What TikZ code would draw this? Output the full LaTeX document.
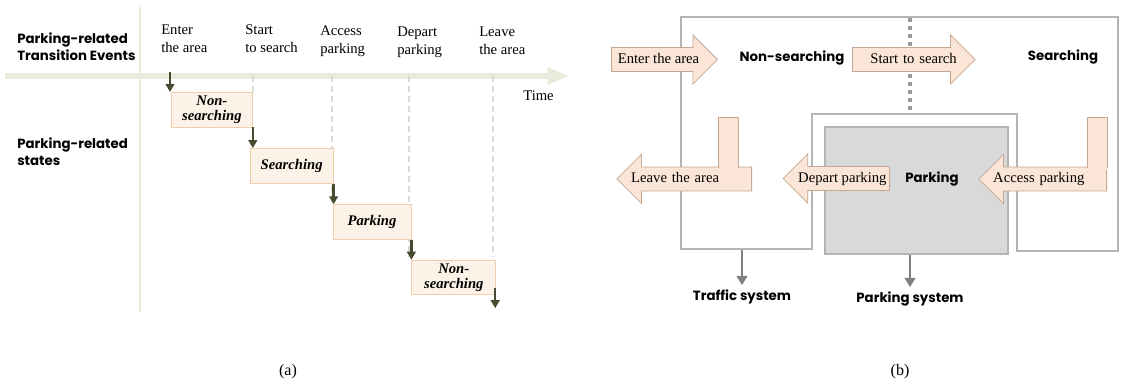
\documentclass[tikz,border=0pt]{standalone}
\usepackage{fontspec}
\setmainfont{Liberation Serif}
\newfontfamily\headfont{Poppins}
\usepackage{tikz}
\usetikzlibrary{shapes,arrows.meta,positioning,calc}
\definecolor{peach}{RGB}{251,229,214}
\definecolor{peachline}{RGB}{196,168,148}
\definecolor{statefill}{RGB}{253,242,232}
\definecolor{stateline}{RGB}{242,206,172}
\definecolor{olive}{RGB}{74,74,50}
\definecolor{axisc}{RGB}{234,234,221}
\definecolor{framec}{RGB}{180,180,180}
\definecolor{sysgray}{RGB}{128,128,128}
\definecolor{boxgray}{RGB}{217,217,217}
\tikzstyle{state} = [rectangle, draw=stateline, fill=statefill, line width=0.6pt, align=center, inner sep=0pt, minimum height=26pt, font=\bfseries\itshape\fontsize{11}{11}\selectfont]
\tikzstyle{event} = [align=left, inner sep=0pt, font=\fontsize{11}{13.5}\selectfont]
\tikzstyle{rowhead} = [align=left, inner sep=0pt, font=\headfont\bfseries\fontsize{10}{12.75}\selectfont]
\tikzstyle{bhead} = [font=\headfont\bfseries\fontsize{10}{12}\selectfont]
\tikzstyle{textonly} = [draw=none, fill=none, font=\fontsize{11}{13}\selectfont]
\tikzstyle{barrow} = [single arrow, draw=peachline, fill=peach, line width=0.6pt, single arrow head extend=9.5pt, inner ysep=3.4pt, inner xsep=4.5pt, text height=8pt, text depth=2.5pt, font=\fontsize{11}{13}\selectfont]
\tikzstyle{tedge} = [draw=olive, line width=1.8pt, -{Triangle[length=6pt,width=6.5pt]}]
\tikzstyle{sysedge} = [draw=sysgray, line width=2.2pt, -{Triangle[length=7pt,width=8pt]}]
\tikzstyle{dline} = [draw=black!15, line width=1pt, dash pattern=on 4.5pt off 3pt]

\begin{document}
\begin{tikzpicture}[x=0.75pt, y=-0.75pt]
\useasboundingbox (0,0) rectangle (1121,383);

% time line (a) =============================
\draw[axisc, line width=2.2pt] (140,7) -- (140,312);
\coordinate (t0) at (5,76);
\coordinate (t1) at (570,76);
\draw[axisc, line width=4.5pt, -{Triangle[length=17pt,width=12pt]}] (t0) -- (t1);
\node[textonly, below left=11.25pt and 12pt of t1, inner sep=0pt] (time) {Time};

\node[rowhead, anchor=west] (trans) at (17,46.5) {Parking-related\\Transition Events};
\node[rowhead, anchor=west] (states) at (17,152) {Parking-related\\states};

% events
\node[event, anchor=north west] (enter) at (161,25) {Enter\\the area};
\node[event, anchor=north west] (start) at (245,25) {Start\\to search};
\node[event, anchor=north west] (access) at (320,26) {Access\\parking};
\node[event, anchor=north west] (depart) at (397,27) {Depart\\parking};
\node[event, anchor=north west] (leave) at (479,27) {Leave\\the area};
\coordinate (e1) at (170,72);
\coordinate (e2) at (253,76);
\coordinate (e3) at (332,76);
\coordinate (e4) at (409,76);
\coordinate (e5) at (493,76);

% dashed time marks
\draw[dline] (e2) -- (253,92);
\draw[dline] (e3) -- (332,203);
\draw[dline] (e4) -- (409,257);
\draw[dline] (e5) -- (493,257);

% states
\node[state, anchor=north west, minimum width=60.75pt] (s1) at (171,92) {Non-\\searching};
\node[state, below right=15.5pt and -2.25pt of s1, minimum width=62.25pt] (s2) {Searching};
\node[state, below right=15.5pt and -0.75pt of s2, minimum width=58.5pt] (s3) {Parking};
\node[state, below right=15pt and 0pt of s3, minimum width=63pt] (s4) {Non-\\searching};

% edges
\draw[tedge] (e1) -- (e1 |- s1.north);
\draw[tedge] (s1.south east) -- (s1.south east |- s2.north);
\draw[tedge] (s2.south east) -- (s2.south east |- s3.north);
\draw[tedge] (s3.south east) -- (s3.south east |- s4.north);
\draw[tedge] ($(s4.south east)+(-1,-7)$) -- ++(0,20);

% system view (b) =============================
\draw[framec, line width=2.2pt] (681,17) -- (1118,17) -- (1118,251) -- (1017,251) -- (1017,114) -- (812,114) -- (812,249) -- (681,249) -- cycle;
\draw[sysgray!80, line width=3pt, dash pattern=on 3pt off 3pt] (910,18) -- (910,113);
\node[draw=framec, fill=boxgray, line width=2.2pt, minimum width=137.25pt, minimum height=95.25pt] (pbox) at (916.5,190.5) {};

\node[bhead] (nons) at (792,58) {Non-searching};
\node[bhead] (sear) at (1063,57) {Searching};
\node[bhead] (park) at (932,179) {Parking};
\node[bhead] (traffic) at (742,297) {Traffic system};
\node[bhead] (psys) at (910,299) {Parking system};

% transition arrows
\node[barrow, anchor=tail] (benter) at (611,59.5) {Enter the area};
\node[barrow, anchor=tail, text width=73.5pt, align=right] (bstart) at (852,59.5) {Start to search};
\node[barrow, anchor=tail, shape border rotate=180, inner xsep=2pt] (bdepart) at (890,178.5) {Depart parking};
\node[barrow, anchor=tail, shape border rotate=180, inner xsep=1.5pt, text width=83.25pt, align=left] (baccess) at (1107,179) {Access parking};
\node[barrow, anchor=tail, shape border rotate=180, inner xsep=1.5pt, text width=88.5pt, align=left] (bleave) at (752,179) {Leave the area};
\fill[peach] (718,117) rectangle (738,170);
\draw[peachline, line width=0.6pt] (718,168) |- (738,117) -- (738,168);
\fill[peach] (1087,117) rectangle (1107,170);
\draw[peachline, line width=0.6pt] (1087,168) |- (1107,117) -- (1107,168);

% system edges
\coordinate (fbot) at (742,250);
\draw[sysedge] (fbot) -- (traffic.north);
\draw[sysedge] (psys.north |- pbox.south) -- (psys.north);

% captions
\node[textonly, font=\fontsize{12}{14}\selectfont] (capa) at (288,372) {(a)};
\node[textonly, font=\fontsize{12}{14}\selectfont] (capb) at (900,372) {(b)};

\end{tikzpicture}
\end{document}
